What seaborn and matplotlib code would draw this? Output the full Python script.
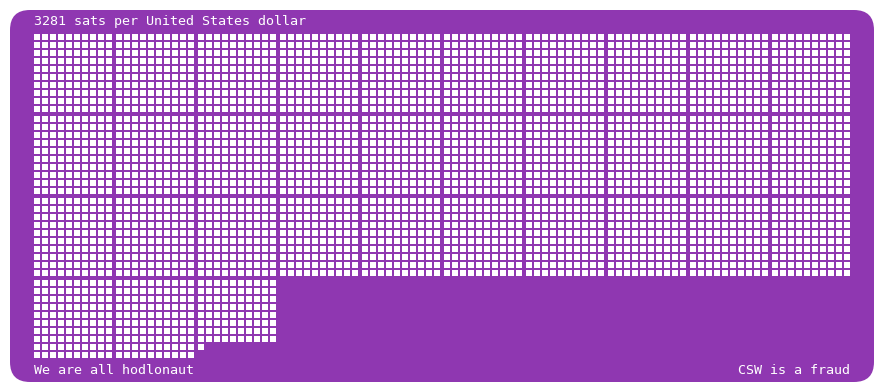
import numpy as np
import pandas as pd
import matplotlib
matplotlib.use("Agg")
import matplotlib.pyplot as plt
from matplotlib.patches import FancyBboxPatch
import seaborn as sns

# data
sats_per_usd = 3281
block_size = 10          # 10 x 10 sats per block
blocks_per_row = 10
title = f"{sats_per_usd} sats per United States dollar"
footer_left = "We are all hodlonaut"
footer_right = "CSW is a fraud"

purple = "#8f37b1"

# layout (pixels)
W, H = 884, 392
left, top = 34, 34
pitch = 8        # square pitch
cell = 6         # square side
block_pitch = 82

# one row per sat
idx = np.arange(sats_per_usd)
blk = idx // (block_size * block_size)
within = idx % (block_size * block_size)
df = pd.DataFrame({
    "x": left + (blk % blocks_per_row) * block_pitch + (within % block_size) * pitch + cell / 2,
    "y": top + (blk // blocks_per_row) * block_pitch + (within // block_size) * pitch + cell / 2,
})

sns.set_theme(style="white")
plt.rcParams['font.family'] = ['DejaVu Sans Mono']

fig = plt.figure(figsize=(W / 100, H / 100), dpi=100)
ax = fig.add_axes([0, 0, 1, 1])
ax.set_xlim(0, W)
ax.set_ylim(H, 0)
ax.axis("off")

bg = FancyBboxPatch((10, 10), W - 20, H - 20,
                    boxstyle="round,pad=0,rounding_size=20",
                    fc=purple, ec="none", zorder=0)
ax.add_patch(bg)

side_pt = cell * 72 / 100
sns.scatterplot(data=df, x="x", y="y", marker="s", s=side_pt ** 2,
                color="white", linewidth=0, ax=ax, zorder=2, legend=False)

fs = 9.6
ax.text(left, 21, title, color="white", fontsize=fs, va="center", ha="left")
ax.text(left, 370, footer_left, color="white", fontsize=fs, va="center", ha="left")
ax.text(850, 370, footer_right, color="white", fontsize=fs, va="center", ha="right")

ax.set_xlabel("")
ax.set_ylabel("")
fig.savefig("out.png", dpi=100)
